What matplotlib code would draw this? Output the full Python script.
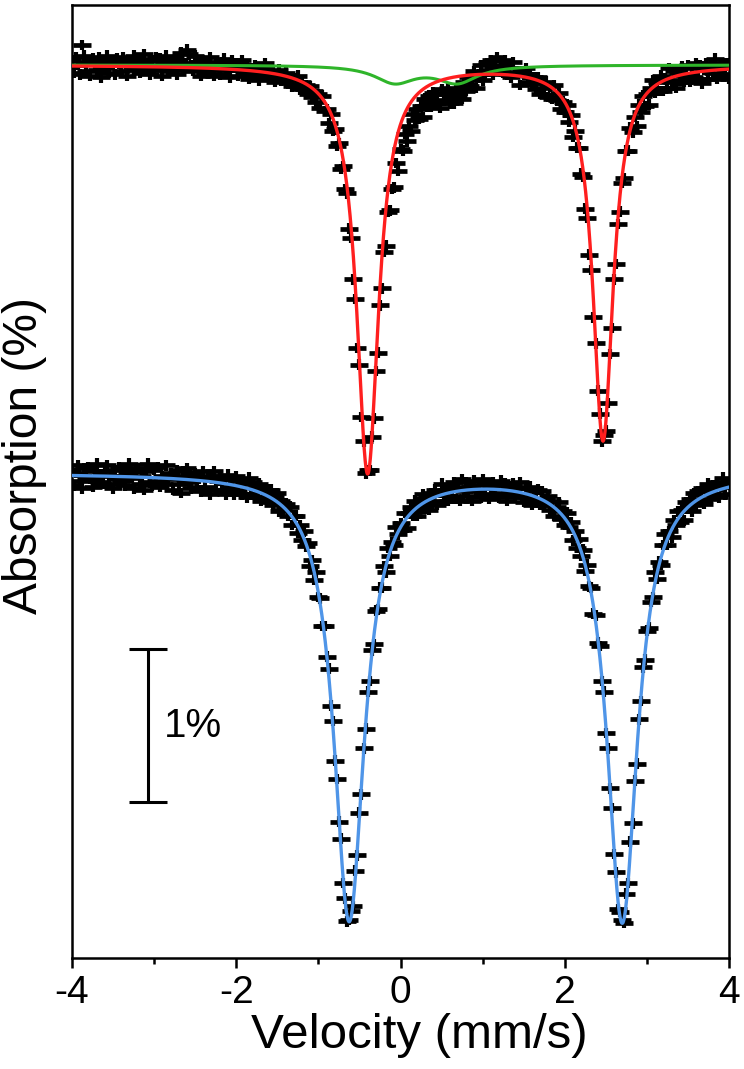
import numpy as np
import matplotlib
matplotlib.use("Agg")
import matplotlib.pyplot as plt
from matplotlib.ticker import MultipleLocator

# ---------------- data (absorption in %, relative to each baseline) ----------------
velocity_range = [-4.0, 4.0]

upper_absorption = [
    0.03, -0.05, 0.05, 0.00, -0.06, 0.13, 0.06, -0.04,
    0.02, -0.07, 0.04, 0.01, -0.03, 0.05, -0.08, 0.02,
    -0.02, 0.06, -0.05, 0.03, 0.00, -0.06, 0.04, 0.01,
    -0.04, 0.05, 0.02, -0.07, 0.03, -0.01, 0.06, -0.03,
    0.01, -0.05, 0.04, 0.07, -0.02, 0.00, -0.06, 0.03,
    -0.03, 0.05, -0.01, 0.04, -0.07, 0.02, 0.06, -0.04,
    0.02, -0.02, 0.05, -0.06, 0.03, 0.08, -0.03, 0.01,
    0.10, 0.07, 0.00, -0.04, 0.06, -0.02, 0.02, -0.07,
    0.03, -0.05, 0.01, 0.05, -0.03, -0.07, 0.02, -0.01,
    -0.06, 0.02, 0.04, -0.03, 0.01, -0.08, 0.03, -0.02,
    0.01, -0.07, -0.02, 0.03, -0.05, 0.00, -0.09, -0.03,
    -0.06, 0.00, -0.04, -0.10, -0.02, -0.07, 0.01, -0.05,
    -0.04, -0.09, -0.05, -0.11, -0.06, -0.03, -0.10, -0.07,
    -0.05, -0.12, -0.08, -0.14, -0.09, -0.13, -0.07, -0.16,
    -0.11, -0.16, -0.13, -0.19, -0.14, -0.21, -0.17, -0.24,
    -0.19, -0.28, -0.20, -0.30, -0.29, -0.38, -0.32, -0.43,
    -0.42, -0.53, -0.51, -0.68, -0.66, -0.81, -0.84, -1.07,
    -1.13, -1.40, -1.53, -1.85, -1.96, -2.30, -2.46, -2.67,
    -2.65,
    -2.65, -2.43, -2.31, -2.00, -1.88, -1.57, -1.46, -1.22,
    -1.18, -0.96, -0.95, -0.81, -0.80, -0.64, -0.69, -0.55,
    -0.56, -0.45, -0.50, -0.40, -0.43, -0.32, -0.36, -0.29,
    -0.35, -0.27, -0.34, -0.22,
    -0.27, -0.20, -0.27, -0.18,
    -0.25, -0.19, -0.28, -0.16, -0.23, -0.19, -0.15, -0.25,
    -0.20, -0.25, -0.16, -0.21, -0.16, -0.22, -0.11, -0.17,
    -0.08, -0.14, -0.10, -0.04, -0.15, -0.06, 0.00, -0.10,
    -0.06, 0.01, -0.03, 0.03, -0.06, -0.01, 0.05, -0.03,
    0.00, -0.05, 0.03, -0.06, -0.02, -0.08, 0.02, -0.05,
    -0.05, -0.13, -0.05, -0.06, -0.02, -0.11, -0.07, -0.12,
    -0.08, -0.16, -0.08, -0.19, -0.12, -0.15, -0.11, -0.21,
    -0.14, -0.22, -0.13, -0.23, -0.18, -0.29, -0.24, -0.31,
    -0.26, -0.37, -0.33, -0.47, -0.43, -0.54, -0.54, -0.71,
    -0.73, -0.94, -1.00, -1.24, -1.34, -1.65, -1.82, -2.13,
    -2.28, -2.46, -2.42, -2.39,
    -2.21, -1.89, -1.72, -1.40, -1.30, -1.04, -0.96, -0.77,
    -0.74, -0.56, -0.56, -0.41, -0.44, -0.34, -0.40, -0.26,
    -0.31, -0.20, -0.27, -0.19, -0.26, -0.15, -0.10, -0.18,
    -0.11, -0.17, -0.07, -0.17, -0.09, -0.15, -0.02, -0.11,
    -0.04, -0.15, -0.05, -0.10, -0.01, -0.11, -0.06, 0.00,
    -0.11, -0.02, -0.08, 0.01, -0.09, 0.00, -0.12, -0.03,
    0.01, -0.09, -0.01, -0.05, 0.04, -0.09, -0.02, -0.07,
    0.01, -0.06, 0.01, -0.09,
]

lower_absorption = [
    0.02, -0.08, 0.00, 0.05, -0.05, -0.10, 0.03, -0.03,
    0.04, -0.04, -0.09, 0.01, 0.06, -0.06, -0.01, -0.07,
    0.01, 0.05, -0.07, -0.02, -0.10, 0.02, -0.04, 0.04,
    -0.05, 0.03, -0.08, 0.00, 0.06, -0.03, -0.10, 0.01,
    0.03, -0.07, -0.02, -0.11, 0.01, 0.06, -0.06, -0.08,
    0.02, -0.05, 0.04, -0.09, -0.02, -0.07, 0.05, -0.04,
    0.00, -0.11, -0.02, 0.02, -0.07, -0.13, 0.01, -0.04,
    0.03, -0.06, -0.10, -0.02, 0.00, -0.09, -0.04, -0.12,
    0.01, -0.09, -0.03, -0.14, -0.02, 0.01, -0.11, -0.05,
    -0.02, -0.11, -0.04, -0.14, -0.01, -0.09, -0.04, -0.14,
    -0.02, -0.11, -0.05, -0.14, -0.07, -0.16, -0.03, -0.14,
    -0.06, -0.16, -0.10, -0.07, -0.18, -0.11, -0.16, -0.11,
    -0.19, -0.11, -0.21, -0.16, -0.13, -0.25, -0.18, -0.24,
    -0.20, -0.28, -0.22, -0.34, -0.28, -0.28, -0.39, -0.34,
    -0.44, -0.38, -0.48, -0.46, -0.61, -0.57, -0.70, -0.65,
    -0.81, -0.82, -1.00, -1.00, -1.20, -1.28, -1.52, -1.62,
    -1.88, -2.00, -2.28, -2.39, -2.68, -2.78, -2.93, -2.92,
    -2.86, -2.83, -2.60, -2.50, -2.22, -2.10, -1.80, -1.67,
    -1.43, -1.36, -1.16, -1.12, -0.90, -0.89, -0.75, -0.75,
    -0.61, -0.65, -0.49, -0.54, -0.45, -0.47, -0.35, -0.40,
    -0.33, -0.37, -0.26, -0.36, -0.26, -0.22, -0.28, -0.18,
    -0.28, -0.19, -0.23, -0.14, -0.23, -0.16, -0.24, -0.13,
    -0.19, -0.11, -0.21, -0.13, -0.07, -0.18, -0.11, -0.18,
    -0.09, -0.15, -0.06, -0.17, -0.09, -0.18, -0.04, -0.12,
    -0.06, -0.15, -0.09, -0.18, -0.05, -0.12, -0.08, -0.16,
    -0.04, -0.14, -0.07, -0.17, -0.10, -0.06, -0.15, -0.08,
    -0.16, -0.05, -0.13, -0.07, -0.18, -0.09, -0.13, -0.07,
    -0.16, -0.10, -0.06, -0.16, -0.19, -0.10, -0.16, -0.09,
    -0.21, -0.12, -0.17, -0.11, -0.21, -0.12, -0.21, -0.17,
    -0.15, -0.24, -0.18, -0.28, -0.22, -0.19, -0.30, -0.25,
    -0.34, -0.26, -0.35, -0.32, -0.44, -0.38, -0.49, -0.43,
    -0.54, -0.50, -0.64, -0.60, -0.74, -0.75, -0.92, -0.93,
    -1.11, -1.13, -1.36, -1.43, -1.70, -1.80, -2.06, -2.19,
    -2.49, -2.61, -2.85, -2.87, -2.92, -2.94, -2.75, -2.68,
    -2.41, -2.29, -2.01, -1.90, -1.61, -1.49, -1.27, -1.22,
    -1.03, -1.01, -0.84, -0.81, -0.65, -0.69, -0.58, -0.60,
    -0.47, -0.40, -0.47, -0.38, -0.42, -0.31, -0.34, -0.25,
    -0.32, -0.24, -0.31, -0.19, -0.23, -0.17, -0.25, -0.13,
    -0.21, -0.12, -0.18, -0.10, -0.20, -0.12, -0.07, -0.17,
    -0.08, -0.15, -0.06, -0.16, -0.09, -0.03, -0.14, -0.07,
    -0.07,
]

error_bar = 0.035

# Lorentzian fit components
red_centers = [-0.40, 2.466]
red_depths = [2.667, 2.45]
red_hwhm = [0.163, 0.15]

green_centers = [-0.07, 0.69]
green_depths = [0.11, 0.11]
green_hwhm = [0.30, 0.30]

blue_centers = [-0.625, 2.70]
blue_depths = [2.92, 2.93]
blue_hwhm = [0.225, 0.225]

lower_offset = -2.667
scale_bar_value = 1.0
scale_bar_label = "1%"

# ---------------- styling ----------------
plt.rcParams["font.family"] = ["Liberation Sans", "DejaVu Sans"]
plt.rcParams["axes.unicode_minus"] = False

RED = "#ff1f1f"
GREEN = "#2fb52a"
BLUE = "#4f95e8"


def lorentz_sum(v, centers, depths, hwhm):
    out = np.zeros_like(v)
    for c, d, g in zip(centers, depths, hwhm):
        out -= d * g ** 2 / ((v - c) ** 2 + g ** 2)
    return out


fig = plt.figure(figsize=(7.44, 10.69), dpi=100)
ax = fig.add_axes([72 / 744, 111 / 1069, 657 / 744, 953 / 1069])

v_up = np.linspace(velocity_range[0], velocity_range[1], len(upper_absorption))
v_lo = np.linspace(velocity_range[0], velocity_range[1], len(lower_absorption))

mk = dict(fmt="_", color="black", ms=13, mew=3.4, elinewidth=3.0,
          capsize=0, zorder=2)
ax.errorbar(v_up, upper_absorption, yerr=error_bar, **mk)
ax.errorbar(v_lo, np.array(lower_absorption) + lower_offset,
            yerr=error_bar, **mk)

v_fit = np.linspace(velocity_range[0], velocity_range[1], 4001)
ax.plot(v_fit, lorentz_sum(v_fit, green_centers, green_depths, green_hwhm),
        color=GREEN, lw=2.2, zorder=3)
ax.plot(v_fit, lorentz_sum(v_fit, red_centers, red_depths, red_hwhm),
        color=RED, lw=2.4, zorder=4)
ax.plot(v_fit, lorentz_sum(v_fit, blue_centers, blue_depths, blue_hwhm)
        + lower_offset, color=BLUE, lw=2.4, zorder=4)

# scale bar
sb_x, sb_mid = -3.075, -4.32
ax.errorbar([sb_x], [sb_mid], yerr=scale_bar_value / 2, fmt="none",
            ecolor="black", elinewidth=2.2, capsize=14, capthick=2.2, zorder=5)
ax.text(sb_x + 0.19, sb_mid, scale_bar_label, fontsize=29,
        ha="left", va="center")

ax.set_xlim(velocity_range)
ax.set_ylim(-5.837, 0.392)
ax.set_yticks([])
ax.xaxis.set_major_locator(MultipleLocator(2))
ax.xaxis.set_minor_locator(MultipleLocator(1))
ax.tick_params(axis="x", which="major", direction="out", length=7.5,
               width=1.8, labelsize=28, pad=5)
ax.tick_params(axis="x", which="minor", direction="out", length=4.5,
               width=1.8)
for s in ax.spines.values():
    s.set_linewidth(1.8)

fig.text(25 / 744, 1 - 455 / 1069, "Absorption (%)", rotation=90,
         fontsize=34.5, ha="center", va="center")
fig.text(419 / 744, 1 - 1035 / 1069, "Velocity (mm/s)",
         fontsize=35.5, ha="center", va="center")

fig.savefig("out.png", dpi=100)
